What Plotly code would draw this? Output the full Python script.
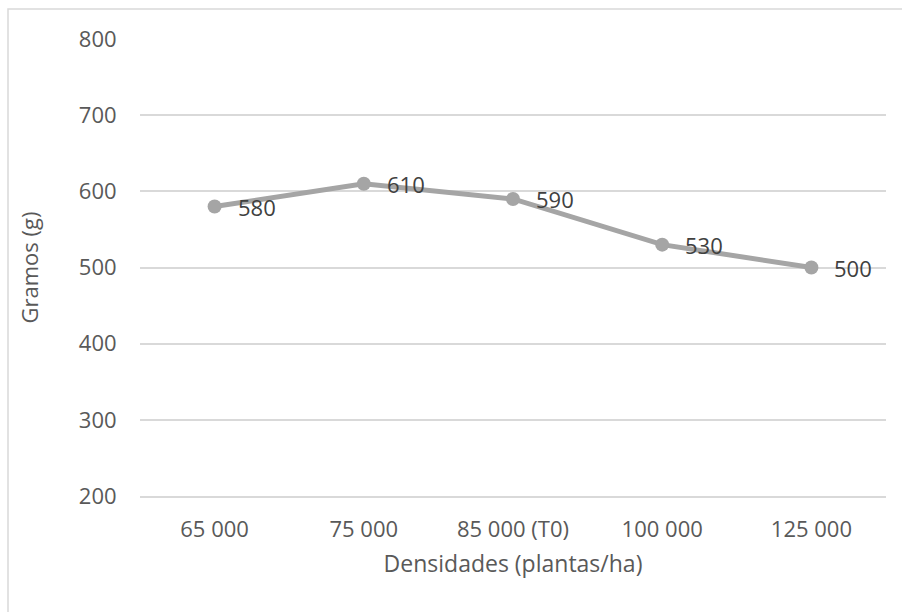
import plotly.graph_objects as go

# Planting densities and mean grams per plant
densidades = ["65 000", "75 000", "85 000 (T0)", "100 000", "125 000"]
gramos = [580, 610, 590, 530, 500]

y_ticks = [200, 300, 400, 500, 600, 700, 800]

FONT = "Open Sans"
LINE_GRAY = "#a5a5a5"
GRID_GRAY = "#d9d9d9"
TICK_GRAY = "#595959"
LABEL_DARK = "#404040"

fig = go.Figure()
fig.add_trace(go.Scatter(
    x=densidades,
    y=gramos,
    mode="lines+markers",
    line=dict(color=LINE_GRAY, width=5),
    marker=dict(color=LINE_GRAY, size=14),
    hoverinfo="x+y",
    showlegend=False,
))

# value labels to the right of each point
for cat, val in zip(densidades, gramos):
    fig.add_annotation(
        x=cat, y=val, text=str(val),
        showarrow=False, xanchor="left", yanchor="middle",
        xshift=21,
        font=dict(family=FONT, size=22, color=LABEL_DARK),
    )

# left, top outline of the chart frame
fig.add_shape(
    type="rect", xref="paper", yref="paper",
    x0=(8 - 140) / 746, x1=1.05,
    y0=-0.3, y1=(496 - 9) / 457,
    line=dict(color=GRID_GRAY, width=1.5),
    fillcolor="rgba(0,0,0,0)", layer="below",
)

fig.update_layout(
    width=902, height=612,
    margin=dict(l=140, r=16, t=39, b=116),
    paper_bgcolor="white", plot_bgcolor="white",
    font=dict(family=FONT, size=22, color=TICK_GRAY),
    xaxis=dict(
        type="category",
        range=[-0.5, 4.5],
        showgrid=False,
        showline=True, linecolor=GRID_GRAY, linewidth=1.5,
        ticks="outside", ticklen=13, tickcolor="rgba(0,0,0,0)",
        tickfont=dict(family=FONT, size=22, color=TICK_GRAY),
        title=dict(text="Densidades (plantas/ha)",
                   font=dict(family=FONT, size=23, color=TICK_GRAY),
                   standoff=14),
        fixedrange=True,
    ),
    yaxis=dict(
        range=[200, 800],
        tickvals=y_ticks,
        showgrid=True, gridcolor=GRID_GRAY, gridwidth=1.5,
        zeroline=False,
        showline=False,
        ticks="outside", ticklen=18, tickcolor="rgba(0,0,0,0)",
        tickfont=dict(family=FONT, size=22, color=TICK_GRAY),
        title=dict(text="Gramos (g)",
                   font=dict(family=FONT, size=22, color=TICK_GRAY),
                   standoff=34),
        fixedrange=True,
    ),
)

fig.write_html("out.html")
